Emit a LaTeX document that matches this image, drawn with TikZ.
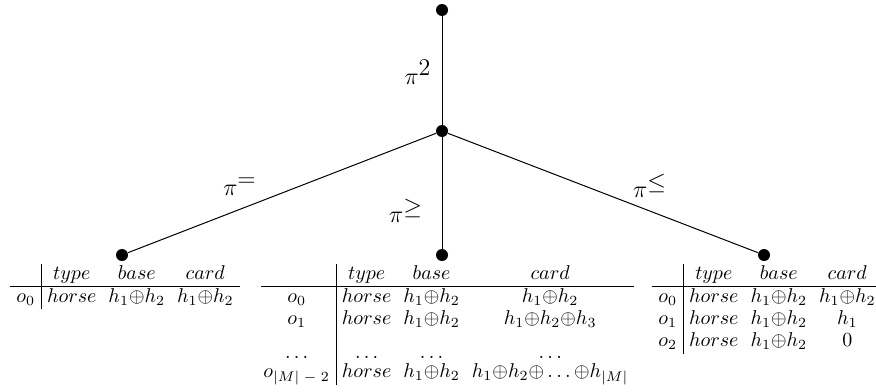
\documentclass[tikz,border=0pt]{standalone}
\begin{document}
\begin{tikzpicture}[x=0.5pt,y=-0.5pt,
  dot/.style={circle,fill=black,inner sep=0pt,minimum size=6pt},
  edge/.style={draw=black,line width=0.5pt},
  lbl/.style={inner sep=0pt,font=\large},
  tbl/.style={inner sep=0pt,anchor=north west}]
\useasboundingbox (0,0) rectangle (876,391);
\node[dot] (top) at (442,10) {};
\node[dot] (mid) at (442,131) {};
\node[dot] (L) at (122,255) {};
\node[dot] (C) at (442,255) {};
\node[dot] (R) at (764,255) {};
\draw[edge] (top) -- (mid);
\draw[edge] (mid) -- (L);
\draw[edge] (mid) -- (C);
\draw[edge] (mid) -- (R);
\node[lbl] (l2) at (418,72) {$\pi^{\textstyle 2}$};
\node[lbl] (leq) at (240,187) {$\pi^{\textstyle =}$};
\node[lbl] (lge) at (406,211) {$\pi^{\textstyle \geq}$};
\node[lbl] (lle) at (650,186) {$\pi^{\textstyle \leq}$};
\setlength{\tabcolsep}{3pt}
\renewcommand{\arraystretch}{0.92}
\node[tbl] (tL) at (10,264) {\begin{tabular}{c|ccc}
 & $type$ & $base$ & $card$\\ \hline
 $o_0$ & $horse$ & $h_1{\oplus}h_2$ & $h_1{\oplus}h_2$
\end{tabular}};
\node[tbl] (tC) at (261,264) {\begin{tabular}{@{\hspace{1pt}}c|ccc}
 & $type$ & $base$ & $card$\\ \hline
 $o_0$ & $horse$ & $h_1{\oplus}h_2$ & $h_1{\oplus}h_2$\\
 $o_1$ & $horse$ & $h_1{\oplus}h_2$ & $h_1{\oplus}h_2{\oplus}h_3$\\[6pt]
 $\ldots$ & $\ldots$ & $\ldots$ & $\ldots$\\[-1.5pt]
 $o_{|M|\;-\;2}$ & $horse$ & $h_1{\oplus}h_2$ & $h_1{\oplus}h_2{\oplus}\ldots{\oplus}h_{|M|}$
\end{tabular}};
\node[tbl] (tR) at (652,264) {\begin{tabular}{c|ccc}
 & $type$ & $base$ & $card$\\ \hline
 $o_0$ & $horse$ & $h_1{\oplus}h_2$ & $h_1{\oplus}h_2$\\
 $o_1$ & $horse$ & $h_1{\oplus}h_2$ & $h_1$\\
 $o_2$ & $horse$ & $h_1{\oplus}h_2$ & $0$
\end{tabular}};
\end{tikzpicture}
\end{document}
